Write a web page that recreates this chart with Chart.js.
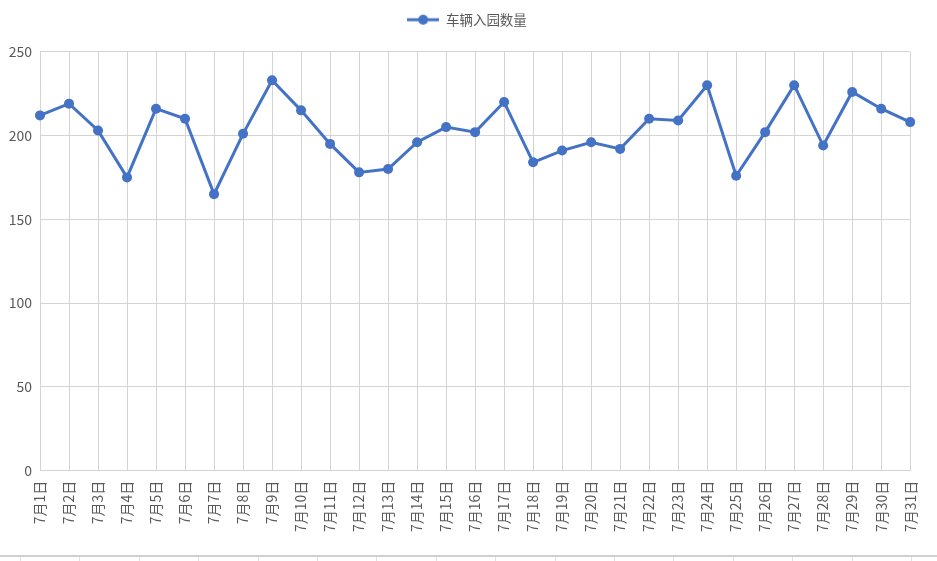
<!DOCTYPE html>
<html>
<head>
<meta charset="utf-8">
<script src="https://cdn.jsdelivr.net/npm/chart.js@4/dist/chart.umd.min.js"></script>
<style>
  html, body { margin: 0; padding: 0; background: #fff; }
  #wrap { position: relative; width: 937px; height: 561px; overflow: hidden; }
  #c { position: absolute; left: 0; top: 0; }
  #sheet {
    position: absolute; left: 0; top: 555px; width: 937px; height: 6px;
    border-top: 2px solid #cfcfcf;
    background: repeating-linear-gradient(to right, transparent 0, transparent 20px, #e0e0e0 20px, #e0e0e0 21px, transparent 21px, transparent 59.4px);
  }
</style>
</head>
<body>
<div id="wrap">
  <canvas id="c" width="937" height="561"></canvas>
  <div id="sheet"></div>
</div>
<script>
const categories = ["7月1日","7月2日","7月3日","7月4日","7月5日","7月6日","7月7日","7月8日","7月9日","7月10日",
  "7月11日","7月12日","7月13日","7月14日","7月15日","7月16日","7月17日","7月18日","7月19日","7月20日",
  "7月21日","7月22日","7月23日","7月24日","7月25日","7月26日","7月27日","7月28日","7月29日","7月30日","7月31日"];
const seriesName = "车辆入园数量";
const vehicleEntries = [212,219,203,175,216,210,165,201,233,215,
  195,178,180,196,205,202,220,184,191,196,
  192,210,209,230,176,202,230,194,226,216,208];
const yTicks = [0,50,100,150,200,250];

const BLUE = '#4472C4';
const GRID = '#d4d4d4';
const FONT = '"Noto Sans CJK SC", "Noto Sans", sans-serif';

// legend symbol: line with a dot
const sym = document.createElement('canvas');
sym.width = 32; sym.height = 12;
(function(){
  const g = sym.getContext('2d');
  g.strokeStyle = BLUE; g.lineWidth = 3;
  g.beginPath(); g.moveTo(0, 6); g.lineTo(32, 6); g.stroke();
  g.fillStyle = BLUE;
  g.beginPath(); g.arc(16, 6, 5, 0, Math.PI * 2); g.fill();
})();

const legendSpacer = {
  id: 'legendSpacer',
  beforeInit(chart) {
    const orig = chart.legend.fit;
    chart.legend.fit = function() {
      orig.call(this);
      this.height = 48.7;
    };
  },
  afterLayout(chart) {
    chart.legend.left += 11;
    chart.legend.right += 11;
  }
};

new Chart(document.getElementById('c'), {
  type: 'line',
  data: {
    labels: categories,
    datasets: [{
      label: seriesName,
      data: vehicleEntries,
      borderColor: BLUE,
      backgroundColor: BLUE,
      borderWidth: 3,
      pointRadius: 5,
      pointBackgroundColor: BLUE,
      pointBorderColor: BLUE,
      pointBorderWidth: 0,
      tension: 0,
      fill: false
    }]
  },
  options: {
    responsive: false,
    animation: false,
    devicePixelRatio: 1,
    layout: { padding: { top: 3, left: 0, right: 25, bottom: 0 } },
    plugins: {
      legend: {
        position: 'top',
        labels: {
          usePointStyle: true,
          pointStyleWidth: 32,
          color: '#595959',
          font: { family: FONT, size: 13.5 },
          padding: 10,
          generateLabels(chart) {
            return [{
              text: seriesName,
              pointStyle: sym,
              fillStyle: BLUE,
              strokeStyle: BLUE,
              lineWidth: 0,
              fontColor: '#595959',
              hidden: false,
              datasetIndex: 0
            }];
          }
        }
      },
      tooltip: { enabled: false }
    },
    scales: {
      x: {
        offset: false,
        grid: { color: GRID, lineWidth: 1, drawTicks: false },
        border: { color: GRID, width: 1 },
        ticks: {
          autoSkip: false,
          maxRotation: 90,
          minRotation: 90,
          padding: 10,
          color: '#595959',
          font: { family: FONT, size: 14 }
        },
        afterFit(scale) { scale.height = 90.3; }
      },
      y: {
        min: 0,
        max: 250,
        afterBuildTicks(scale) { scale.ticks = yTicks.map(v => ({ value: v })); },
        grid: { color: GRID, lineWidth: 1, drawTicks: false },
        border: { display: false },
        ticks: {
          padding: 8,
          color: '#595959',
          font: { family: FONT, size: 14 }
        },
        afterFit(scale) { scale.width = 40; }
      }
    }
  },
  plugins: [legendSpacer]
});
</script>
</body>
</html>
